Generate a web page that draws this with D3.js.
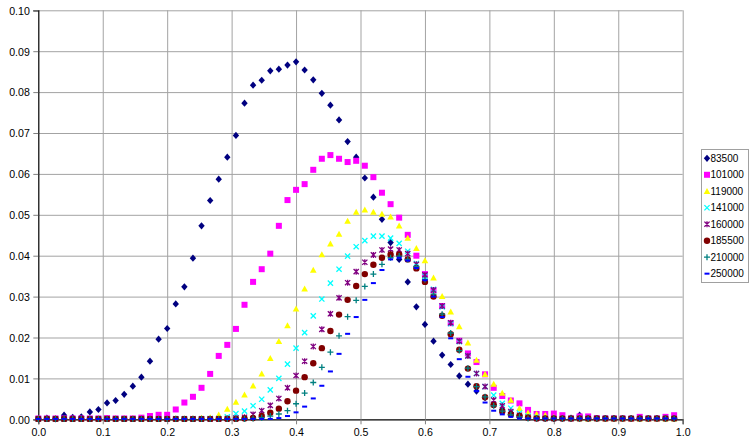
<!DOCTYPE html>
<html>
<head>
<meta charset="utf-8">
<script src="https://cdn.jsdelivr.net/npm/d3@7"></script>
<style>
  html, body { margin: 0; padding: 0; background: #fff; }
  svg { display: block; font-family: "Liberation Sans", Arial, sans-serif; }
</style>
</head>
<body>
<svg id="chart" width="749" height="437"></svg>
<script>
// ---- data ----
const xValues = [0, 0.0133, 0.0267, 0.04, 0.0533, 0.0667, 0.08, 0.0933, 0.1067, 0.12,
  0.1333, 0.1467, 0.16, 0.1733, 0.1867, 0.2, 0.2133, 0.2267, 0.24, 0.2533,
  0.2667, 0.28, 0.2933, 0.3067, 0.32, 0.3333, 0.3467, 0.36, 0.3733, 0.3867,
  0.4, 0.4133, 0.4267, 0.44, 0.4533, 0.4667, 0.48, 0.4933, 0.5067, 0.52,
  0.5333, 0.5467, 0.56, 0.5733, 0.5867, 0.6, 0.6133, 0.6267, 0.64, 0.6533,
  0.6667, 0.68, 0.6933, 0.7067, 0.72, 0.7333, 0.7467, 0.76, 0.7733, 0.7867,
  0.8, 0.8133, 0.8267, 0.84, 0.8533, 0.8667, 0.88, 0.8933, 0.9067, 0.92,
  0.9333, 0.9467, 0.96, 0.9733, 0.9867];

const seriesNames = ["83500", "101000", "119000", "141000", "160000", "185500", "210000", "250000"];

const s83500 = [0.0001, 0.0003, 0.0001, 0.0010, 0.0005, 0.0006, 0.0018, 0.0024, 0.0040, 0.0046,
  0.0061, 0.0081, 0.0103, 0.0142, 0.0196, 0.0222, 0.0282, 0.0324, 0.0394, 0.0473,
  0.0535, 0.0587, 0.0641, 0.0694, 0.0773, 0.0817, 0.0829, 0.0852, 0.0856, 0.0866,
  0.0874, 0.0854, 0.0830, 0.0797, 0.0768, 0.0732, 0.0679, 0.0641, 0.0590, 0.0543,
  0.0489, 0.0432, 0.0391, 0.0336, 0.0275, 0.0232, 0.0191, 0.0157, 0.0134, 0.0106,
  0.0086, 0.0069, 0.0053, 0.0036, 0.0024, 0.0016, 0.0010, 0.0006, 0.0004, 0.0003,
  0.0002, 0.0002, 0.0003, 0.0010, 0.0003, 0.0002, 0.0002, 0.0002, 0.0002, 0.0002,
  0.0002, 0.0002, 0.0002, 0.0002, 0.0002];

const s101000 = [0.0002, 0.0002, 0.0002, 0.0002, 0.0002, 0.0002, 0.0002, 0.0002, 0.0003, 0.0002,
  0.0002, 0.0002, 0.0004, 0.0008, 0.0011, 0.0011, 0.0024, 0.0041, 0.0055, 0.0077,
  0.0111, 0.0155, 0.0182, 0.0221, 0.0280, 0.0336, 0.0367, 0.0405, 0.0473, 0.0536,
  0.0561, 0.0575, 0.0610, 0.0637, 0.0646, 0.0637, 0.0629, 0.0632, 0.0620, 0.0592,
  0.0554, 0.0526, 0.0493, 0.0451, 0.0400, 0.0355, 0.0316, 0.0277, 0.0235, 0.0192,
  0.0161, 0.0140, 0.0110, 0.0077, 0.0057, 0.0046, 0.0039, 0.0023, 0.0013, 0.0013,
  0.0014, 0.0010, 0.0002, 0.0007, 0.0007, 0.0003, 0.0002, 0.0002, 0.0002, 0.0001,
  0.0006, 0.0002, 0.0002, 0.0006, 0.0010];

const s119000 = [0.0001, 0.0001, 0.0001, 0.0001, 0.0001, 0.0001, 0.0001, 0.0001, 0.0001, 0.0001,
  0.0001, 0.0001, 0.0001, 0.0001, 0.0001, 0.0001, 0.0001, 0.0001, 0.0001, 0.0003,
  0.0004, 0.0011, 0.0025, 0.0042, 0.0060, 0.0082, 0.0111, 0.0149, 0.0191, 0.0229,
  0.0270, 0.0319, 0.0365, 0.0403, 0.0429, 0.0453, 0.0485, 0.0507, 0.0512, 0.0507,
  0.0502, 0.0495, 0.0473, 0.0443, 0.0418, 0.0388, 0.0346, 0.0301, 0.0263, 0.0227,
  0.0187, 0.0145, 0.0110, 0.0086, 0.0064, 0.0047, 0.0027, 0.0016, 0.0013, 0.0010,
  0.0005, 0.0003, 0.0002, 0.0002, 0.0001, 0.0002, 0.0001, 0.0001, 0.0001, 0.0001,
  0.0001, 0.0001, 0.0001, 0.0001, 0.0001];

const s141000 = [0.0001, 0.0001, 0.0001, 0.0001, 0.0001, 0.0001, 0.0001, 0.0001, 0.0001, 0.0001,
  0.0001, 0.0001, 0.0001, 0.0001, 0.0001, 0.0001, 0.0001, 0.0001, 0.0001, 0.0001,
  0.0002, 0.0002, 0.0006, 0.0014, 0.0020, 0.0033, 0.0049, 0.0072, 0.0100, 0.0135,
  0.0174, 0.0212, 0.0253, 0.0294, 0.0333, 0.0367, 0.0399, 0.0422, 0.0437, 0.0448,
  0.0448, 0.0443, 0.0430, 0.0411, 0.0381, 0.0350, 0.0318, 0.0275, 0.0234, 0.0190,
  0.0155, 0.0112, 0.0080, 0.0059, 0.0039, 0.0027, 0.0015, 0.0008, 0.0005, 0.0002,
  0.0002, 0.0002, 0.0002, 0.0002, 0.0002, 0.0002, 0.0002, 0.0002, 0.0002, 0.0002,
  0.0002, 0.0002, 0.0002, 0.0002, 0.0002];

const s160000 = [0.0001, 0.0001, 0.0001, 0.0001, 0.0001, 0.0001, 0.0001, 0.0001, 0.0001, 0.0001,
  0.0001, 0.0001, 0.0001, 0.0001, 0.0001, 0.0001, 0.0001, 0.0001, 0.0001, 0.0001,
  0.0001, 0.0001, 0.0002, 0.0003, 0.0005, 0.0012, 0.0021, 0.0034, 0.0051, 0.0077,
  0.0107, 0.0142, 0.0178, 0.0220, 0.0258, 0.0297, 0.0334, 0.0361, 0.0384, 0.0402,
  0.0414, 0.0416, 0.0414, 0.0405, 0.0379, 0.0353, 0.0316, 0.0277, 0.0236, 0.0191,
  0.0155, 0.0112, 0.0080, 0.0047, 0.0033, 0.0019, 0.0010, 0.0005, 0.0002, 0.0002,
  0.0002, 0.0002, 0.0002, 0.0002, 0.0002, 0.0002, 0.0002, 0.0002, 0.0002, 0.0002,
  0.0002, 0.0002, 0.0002, 0.0002, 0.0002];

const s185500 = [0.0001, 0.0001, 0.0001, 0.0001, 0.0001, 0.0001, 0.0001, 0.0001, 0.0001, 0.0001,
  0.0001, 0.0001, 0.0001, 0.0001, 0.0001, 0.0001, 0.0001, 0.0001, 0.0001, 0.0001,
  0.0001, 0.0001, 0.0001, 0.0001, 0.0002, 0.0003, 0.0008, 0.0016, 0.0026, 0.0044,
  0.0070, 0.0103, 0.0137, 0.0174, 0.0216, 0.0256, 0.0292, 0.0326, 0.0355, 0.0378,
  0.0395, 0.0403, 0.0403, 0.0391, 0.0369, 0.0336, 0.0300, 0.0253, 0.0208, 0.0170,
  0.0124, 0.0081, 0.0054, 0.0035, 0.0019, 0.0012, 0.0008, 0.0004, 0.0002, 0.0002,
  0.0002, 0.0002, 0.0002, 0.0002, 0.0002, 0.0002, 0.0002, 0.0002, 0.0002, 0.0002,
  0.0002, 0.0002, 0.0002, 0.0002, 0.0002];

const s210000 = [0.0001, 0.0001, 0.0001, 0.0001, 0.0001, 0.0001, 0.0001, 0.0001, 0.0001, 0.0001,
  0.0001, 0.0001, 0.0001, 0.0001, 0.0001, 0.0001, 0.0001, 0.0001, 0.0001, 0.0001,
  0.0001, 0.0001, 0.0001, 0.0001, 0.0001, 0.0002, 0.0004, 0.0008, 0.0013, 0.0021,
  0.0038, 0.0064, 0.0090, 0.0127, 0.0164, 0.0204, 0.0251, 0.0291, 0.0325, 0.0355,
  0.0379, 0.0395, 0.0399, 0.0391, 0.0373, 0.0342, 0.0306, 0.0257, 0.0211, 0.0168,
  0.0125, 0.0080, 0.0055, 0.0033, 0.0020, 0.0011, 0.0006, 0.0002, 0.0002, 0.0002,
  0.0002, 0.0002, 0.0002, 0.0002, 0.0002, 0.0002, 0.0002, 0.0002, 0.0002, 0.0002,
  0.0002, 0.0002, 0.0002, 0.0002, 0.0002];

const s250000 = [0.0001, 0.0001, 0.0001, 0.0001, 0.0001, 0.0001, 0.0001, 0.0001, 0.0001, 0.0001,
  0.0001, 0.0001, 0.0001, 0.0001, 0.0001, 0.0001, 0.0001, 0.0001, 0.0001, 0.0001,
  0.0001, 0.0001, 0.0001, 0.0001, 0.0001, 0.0001, 0.0001, 0.0001, 0.0003, 0.0008,
  0.0017, 0.0031, 0.0051, 0.0082, 0.0117, 0.0160, 0.0209, 0.0250, 0.0292, 0.0333,
  0.0365, 0.0391, 0.0395, 0.0388, 0.0370, 0.0340, 0.0300, 0.0250, 0.0198, 0.0147,
  0.0104, 0.0069, 0.0041, 0.0021, 0.0012, 0.0006, 0.0002, 0.0002, 0.0002, 0.0002,
  0.0002, 0.0002, 0.0002, 0.0002, 0.0002, 0.0002, 0.0002, 0.0002, 0.0002, 0.0002,
  0.0002, 0.0002, 0.0002, 0.0002, 0.0002];

const xTicks = [0, 0.1, 0.2, 0.3, 0.4, 0.5, 0.6, 0.7, 0.8, 0.9, 1.0];
const yTicks = [0, 0.01, 0.02, 0.03, 0.04, 0.05, 0.06, 0.07, 0.08, 0.09, 0.10];

// ---- styling ----
const seriesValues = [s83500, s101000, s119000, s141000, s160000, s185500, s210000, s250000];
const colors = ["#000080", "#ff00ff", "#ffff00", "#00ffff", "#800080", "#800000", "#008080", "#0000ff"];
const shapes = ["diamond", "square", "triangle", "x", "star", "circle", "plus", "dash"];

const svg = d3.select("#chart");
const plotLeft = 38.3, plotRight = 682.7, plotTop = 10.3, plotBottom = 419.3;

const x = d3.scaleLinear().domain([0, 1]).range([plotLeft, plotRight]);
const y = d3.scaleLinear().domain([0, 0.1]).range([plotBottom, plotTop]);

// gridlines
const grid = svg.append("g");
grid.append("g")
  .attr("transform", `translate(0,${plotBottom})`)
  .call(d3.axisBottom(x).tickValues(xTicks.slice(1)).tickSize(-(plotBottom - plotTop)).tickFormat(""))
  .call(g => g.select(".domain").remove())
  .call(g => g.selectAll("line").attr("stroke", "#a3a3a3"));
grid.append("g")
  .attr("transform", `translate(${plotLeft},0)`)
  .call(d3.axisLeft(y).tickValues(yTicks.slice(1)).tickSize(-(plotRight - plotLeft)).tickFormat(""))
  .call(g => g.select(".domain").remove())
  .call(g => g.selectAll("line").attr("stroke", "#a3a3a3"));

// axes with labels
const xAxis = svg.append("g")
  .attr("transform", `translate(0,${plotBottom})`)
  .call(d3.axisBottom(x).tickValues(xTicks).tickSize(5).tickPadding(4.5).tickFormat(d3.format(".1f")));
const yAxis = svg.append("g")
  .attr("transform", `translate(${plotLeft},0)`)
  .call(d3.axisLeft(y).tickValues(yTicks).tickSize(5).tickPadding(3.5).tickFormat(d3.format(".2f")));
[xAxis, yAxis].forEach(a => {
  a.selectAll("text").attr("font-size", "10.6px").attr("fill", "#000")
    .attr("font-family", "'Liberation Sans', Arial, sans-serif");
  a.selectAll(".tick line").attr("stroke", "#808080");
  a.select(".domain").attr("stroke", "#000").attr("stroke-width", 1.2);
});
yAxis.selectAll("text").attr("dy", "0.36em");

// marker drawing
function drawMarker(sel, shape, color) {
  switch (shape) {
    case "diamond":
      sel.append("path").attr("d", "M0,-3.6L3.2,0L0,3.6L-3.2,0Z").attr("fill", color); break;
    case "square":
      sel.append("rect").attr("x", -3).attr("y", -3).attr("width", 6).attr("height", 6).attr("fill", color); break;
    case "triangle":
      sel.append("path").attr("d", "M0,-3.3L3.3,2.7L-3.3,2.7Z").attr("fill", color); break;
    case "x":
      sel.append("path").attr("d", "M-2.6,-2.6L2.6,2.6M-2.6,2.6L2.6,-2.6").attr("stroke", color).attr("stroke-width", 1.3).attr("fill", "none"); break;
    case "star":
      sel.append("path").attr("d", "M-2.6,-2.6L2.6,2.6M-2.6,2.6L2.6,-2.6M0,-3L0,3").attr("stroke", color).attr("stroke-width", 1.3).attr("fill", "none"); break;
    case "circle":
      sel.append("circle").attr("r", 3.2).attr("fill", color); break;
    case "plus":
      sel.append("path").attr("d", "M-3,0L3,0M0,-3L0,3").attr("stroke", color).attr("stroke-width", 1.3).attr("fill", "none"); break;
    case "dash":
      sel.append("rect").attr("x", -2.5).attr("y", -1).attr("width", 5).attr("height", 2).attr("fill", color); break;
  }
}

// series points
seriesValues.forEach((vals, si) => {
  const g = svg.append("g").attr("class", "series");
  const pts = g.selectAll("g.pt")
    .data(vals.map((v, i) => ({ x: xValues[i], y: v })))
    .join("g").attr("class", "pt")
    .attr("transform", d => `translate(${x(d.x)},${y(d.y)})`);
  pts.each(function () { drawMarker(d3.select(this), shapes[si], colors[si]); });
});

// legend
const legend = svg.append("g");
legend.append("rect")
  .attr("x", 701.5).attr("y", 149.5).attr("width", 47).attr("height", 133)
  .attr("fill", "#fff").attr("stroke", "#a0a0a0");
seriesNames.forEach((name, i) => {
  const cy = 158.3 + i * 16.48;
  const m = legend.append("g").attr("transform", `translate(707,${cy})`);
  drawMarker(m, shapes[i], colors[i]);
  legend.append("text")
    .attr("x", 710.5).attr("y", cy + 3.6)
    .attr("font-size", "10px").attr("fill", "#000")
    .text(name);
});
</script>
</body>
</html>
